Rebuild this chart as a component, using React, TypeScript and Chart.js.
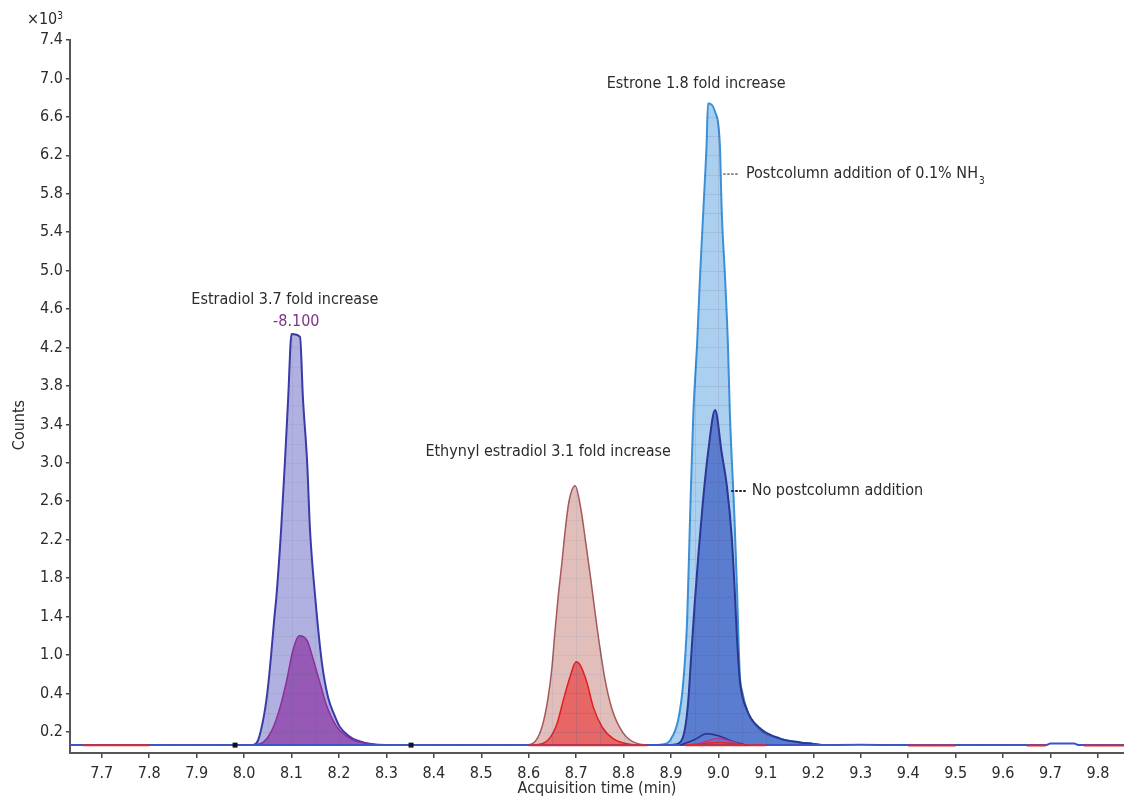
import React, { useEffect, useRef } from "react";
import { Chart, registerables } from "chart.js";

Chart.register(...registerables);

const FONT = "'Liberation Sans Narrow', 'DejaVu Sans Condensed', 'Arial Narrow', sans-serif";
const TEXT = "#2b2b2b";

// ---- axis ticks ----
const xTicks = [7.7, 7.8, 7.9, 8.0, 8.1, 8.2, 8.3, 8.4, 8.5, 8.6, 8.7, 8.8, 8.9, 9.0, 9.1, 9.2, 9.3, 9.4, 9.5, 9.6, 9.7, 9.8];
const yTicks = [0.2, 0.6, 1.0, 1.4, 1.8, 2.2, 2.6, 3.0, 3.4, 3.8, 4.2, 4.6, 5.0, 5.4, 5.8, 6.2, 6.6, 7.0, 7.4];
const yTickLabels = ["0.2", "0.4", "1.0", "1.4", "1.8", "2.2", "2.6", "3.0", "3.4", "3.8", "4.2", "4.6", "5.0", "5.4", "5.8", "6.2", "6.6", "7.0", "7.4"];

// ---- series: [time (min), counts (x10^3)] ----
const estradiolPost: [number, number][] = [
  [8.0, 0.062], [8.019, 0.064], [8.03, 0.12], [8.043, 0.4], [8.05, 0.65], [8.057, 1.0], [8.064, 1.4], [8.068, 1.6],
  [8.078, 2.3], [8.086, 3.0], [8.093, 3.68], [8.1, 4.34], [8.118, 4.31], [8.124, 3.68], [8.133, 3.0],
  [8.139, 2.3], [8.15, 1.6], [8.164, 0.92], [8.177, 0.56], [8.19, 0.38], [8.202, 0.25], [8.22, 0.16],
  [8.238, 0.11], [8.272, 0.07], [8.31, 0.062],
];
const estradiolNo: [number, number][] = [
  [8.02, 0.062], [8.04, 0.09], [8.059, 0.22], [8.076, 0.46], [8.09, 0.74], [8.103, 1.05], [8.116, 1.2],
  [8.133, 1.15], [8.146, 0.95], [8.16, 0.71], [8.175, 0.46], [8.196, 0.25], [8.224, 0.13], [8.259, 0.08],
  [8.29, 0.062],
];
const ethynylPost: [number, number][] = [
  [8.59, 0.062], [8.609, 0.08], [8.628, 0.25], [8.641, 0.56], [8.649, 0.87], [8.655, 1.22], [8.662, 1.6],
  [8.67, 1.96], [8.677, 2.3], [8.685, 2.6], [8.698, 2.76], [8.71, 2.52], [8.72, 2.18], [8.73, 1.82],
  [8.74, 1.44], [8.75, 1.08], [8.761, 0.74], [8.776, 0.43], [8.799, 0.19], [8.828, 0.08], [8.86, 0.062],
];
const ethynylNo: [number, number][] = [
  [8.6, 0.062], [8.624, 0.07], [8.645, 0.14], [8.66, 0.29], [8.673, 0.53], [8.687, 0.77], [8.7, 0.93],
  [8.708, 0.9], [8.723, 0.71], [8.736, 0.46], [8.755, 0.25], [8.778, 0.13], [8.813, 0.07], [8.84, 0.062],
];
const estronePost: [number, number][] = [
  [8.87, 0.062], [8.891, 0.08], [8.898, 0.11], [8.915, 0.32], [8.925, 0.67], [8.934, 1.36], [8.94, 2.4],
  [8.947, 3.5], [8.955, 4.23], [8.961, 4.92], [8.968, 5.61], [8.975, 6.31], [8.978, 6.74], [8.993, 6.65],
  [9.003, 6.31], [9.007, 5.61], [9.014, 4.92], [9.02, 4.23], [9.024, 3.53], [9.034, 2.4], [9.039, 1.71],
  [9.045, 0.8], [9.05, 0.62], [9.062, 0.4], [9.087, 0.22], [9.13, 0.13], [9.172, 0.09], [9.2, 0.075], [9.22, 0.062],
];
const estroneNo: [number, number][] = [
  [8.9, 0.062], [8.919, 0.09], [8.929, 0.22], [8.936, 0.5], [8.943, 1.02], [8.95, 1.54], [8.958, 2.06],
  [8.967, 2.58], [8.978, 3.1], [8.993, 3.55], [9.007, 3.1], [9.018, 2.75], [9.028, 2.23], [9.034, 1.71],
  [9.039, 1.19], [9.045, 0.74], [9.06, 0.43], [9.087, 0.24], [9.13, 0.13], [9.172, 0.09], [9.2, 0.075], [9.22, 0.062],
];
const navyBump: [number, number][] = [[8.92, 0.062], [8.95, 0.12], [8.975, 0.18], [9.0, 0.16], [9.03, 0.1], [9.06, 0.062]];
const magentaBump: [number, number][] = [[8.95, 0.062], [8.98, 0.11], [9.0, 0.13], [9.02, 0.11], [9.05, 0.062]];
const redBump: [number, number][] = [[8.93, 0.062], [8.97, 0.08], [9.0, 0.09], [9.03, 0.08], [9.06, 0.062]];
const blueBaseline: [number, number][] = [
  [7.633, 0.062], [9.2, 0.062], [9.3, 0.066], [9.38, 0.062], [9.69, 0.062], [9.7, 0.08], [9.75, 0.08], [9.76, 0.062], [9.855, 0.062],
];
const redBaseline: [number, number | null][] = [
  [7.66, 0.06], [7.8, 0.06], [7.81, null], [8.6, 0.06], [8.85, 0.06], [8.86, null], [8.93, 0.06], [9.1, 0.06], [9.11, null],
  [9.4, 0.058], [9.5, 0.058], [9.51, null], [9.65, 0.058], [9.69, 0.058], [9.7, null], [9.77, 0.058], [9.855, 0.058],
];
const markers: [number, number][] = [[7.981, 0.062], [8.352, 0.062]];

const BASE = 0.062;

const pts = (a: [number, number | null][]) => a.map(([x, y]) => ({ x, y }));

export default function App() {
  const ref = useRef<HTMLCanvasElement>(null);

  useEffect(() => {
    document.body.style.margin = "0";
    const canvas = ref.current;
    if (!canvas) return;

    const peak = (data: [number, number][], fill: string, line: string, width: number, order: number) => ({
      data: pts(data),
      borderColor: line,
      backgroundColor: fill,
      borderWidth: width,
      fill: { value: BASE },
      pointRadius: 0,
      cubicInterpolationMode: "monotone" as const,
      order,
    });
    const trace = (data: [number, number | null][], line: string, width: number, order: number) => ({
      data: pts(data),
      borderColor: line,
      backgroundColor: line,
      borderWidth: width,
      fill: false,
      pointRadius: 0,
      spanGaps: false,
      cubicInterpolationMode: "monotone" as const,
      order,
    });

    const innerGrid = {
      id: "innerGrid",
      afterDatasetsDraw(chart: any) {
        const { ctx, chartArea: a, scales } = chart;
        const xs = scales.x, ys = scales.y;
        ctx.save();
        ctx.beginPath();
        ctx.rect(a.left + 2, a.top, a.right - a.left - 2, a.bottom - a.top - 2);
        ctx.clip();
        ctx.globalCompositeOperation = "source-atop";
        ctx.strokeStyle = "rgba(70,70,130,0.24)";
        ctx.lineWidth = 1;
        ctx.beginPath();
        for (let i = 0; i <= 44; i++) {
          const px = Math.round(xs.getPixelForValue(7.65 + i * 0.05)) + 0.5;
          ctx.moveTo(px, a.top);
          ctx.lineTo(px, a.bottom);
        }
        for (let i = 0; i <= 37; i++) {
          const py = Math.round(ys.getPixelForValue(0.2 + i * 0.2)) + 0.5;
          ctx.moveTo(a.left, py);
          ctx.lineTo(a.right, py);
        }
        ctx.stroke();
        ctx.restore();
      },
    };

    const texts = {
      id: "texts",
      afterDraw(chart: any) {
        const { ctx, chartArea: a, scales } = chart;
        const X = (v: number) => scales.x.getPixelForValue(v);
        const Y = (v: number) => scales.y.getPixelForValue(v);
        ctx.save();
        ctx.fillStyle = TEXT;
        ctx.textBaseline = "middle";
        ctx.font = `16px ${FONT}`;

        // annotations
        ctx.textAlign = "center";
        ctx.fillText("Estradiol 3.7 fold increase", X(8.086), Y(4.7));
        ctx.fillText("Ethynyl estradiol 3.1 fold increase", X(8.641), Y(3.112));
        ctx.fillText("Estrone 1.8 fold increase", X(8.953), Y(6.942));
        ctx.fillStyle = "#7b3486";
        ctx.fillText("-8.100", X(8.11), Y(4.465));

        // leader labels
        ctx.fillStyle = TEXT;
        ctx.strokeStyle = "#222";
        ctx.setLineDash([2.5, 1.5]);
        ctx.lineWidth = 1;
        ctx.beginPath();
        ctx.moveTo(X(9.01), Y(6.005));
        ctx.lineTo(X(9.041), Y(6.005));
        ctx.stroke();
        ctx.lineWidth = 2;
        ctx.beginPath();
        ctx.moveTo(X(9.027), Y(2.706));
        ctx.lineTo(X(9.058), Y(2.706));
        ctx.stroke();
        ctx.setLineDash([]);
        ctx.textAlign = "left";
        const t1 = "Postcolumn addition of 0.1% NH";
        ctx.fillText(t1, X(9.058), Y(6.005));
        const w1 = ctx.measureText(t1).width;
        ctx.font = `10px ${FONT}`;
        ctx.fillText("3", X(9.058) + w1 + 1, Y(6.005) + 7);
        ctx.font = `16px ${FONT}`;
        ctx.fillText("No postcolumn addition", X(9.07), Y(2.706));

        // y axis title and exponent
        ctx.save();
        ctx.translate(a.left - 50, 425);
        ctx.rotate(-Math.PI / 2);
        ctx.textAlign = "center";
        ctx.fillText("Counts", 0, 0);
        ctx.restore();

        ctx.textAlign = "right";
        ctx.font = `10px ${FONT}`;
        ctx.fillText("3", a.left - 7, a.top - 24);
        const w3 = ctx.measureText("3").width;
        ctx.font = `16px ${FONT}`;
        ctx.fillText("×10", a.left - 7 - w3, a.top - 20);
        ctx.restore();
      },
    };

    const chart = new Chart(canvas, {
      type: "line",
      data: {
        datasets: [
          { type: "scatter", data: pts(markers), pointStyle: "rect", pointRadius: 3.5, backgroundColor: "#111", borderColor: "#111", borderWidth: 0, order: 0 } as any,
          trace(redBump, "#e02828", 1.5, 1),
          trace(magentaBump, "#c0368c", 1.5, 1),
          trace(navyBump, "#26308e", 1.5, 1),
          trace(redBaseline, "#e02a2a", 2, 1),
          trace(blueBaseline, "#3a55c8", 2, 1),
          peak(estradiolNo, "rgba(140,55,165,0.72)", "#8e2f9c", 1.5, 2),
          peak(ethynylNo, "rgba(232,78,78,0.78)", "#e21e24", 1.5, 2),
          peak(estroneNo, "rgba(66,100,198,0.76)", "#2b3794", 2, 2),
          peak(estradiolPost, "rgba(125,125,205,0.6)", "#3a3aa8", 2, 3),
          peak(ethynylPost, "rgba(195,125,115,0.5)", "#a85858", 1.5, 3),
          peak(estronePost, "rgba(125,182,230,0.65)", "#3b90d8", 2, 3),
        ] as any,
      },
      options: {
        animation: false,
        responsive: false,
        maintainAspectRatio: false,
        layout: { autoPadding: false, padding: { top: 40, left: 0, right: 0, bottom: 0 } },
        plugins: { legend: { display: false }, tooltip: { enabled: false } },
        scales: {
          x: {
            type: "linear",
            min: 7.633,
            max: 9.855,
            afterBuildTicks: (s: any) => { s.ticks = xTicks.map((v) => ({ value: v })); },
            afterFit: (s: any) => { s.height = 47; s.paddingLeft = 0; s.paddingRight = 0; },
            ticks: {
              callback: (v: any) => Number(v).toFixed(1),
              font: { family: FONT, size: 16 },
              color: TEXT,
              padding: 6,
              maxRotation: 0,
              autoSkip: false,
            },
            grid: { drawOnChartArea: false, tickLength: 5, color: "#444", lineWidth: 1.5 },
            border: { color: "#555", width: 2 },
            title: { display: true, text: "Acquisition time (min)", font: { family: FONT, size: 16 }, color: TEXT, padding: { top: 0, bottom: 2 } },
          },
          y: {
            type: "linear",
            min: -0.02,
            max: 7.4,
            afterBuildTicks: (s: any) => { s.ticks = yTicks.map((v) => ({ value: v })); },
            afterFit: (s: any) => { s.width = 70; s.paddingTop = 0; s.paddingBottom = 0; },
            ticks: {
              callback: (_v: any, i: number) => yTickLabels[i],
              font: { family: FONT, size: 16 },
              color: TEXT,
              padding: 3,
              autoSkip: false,
            },
            grid: { drawOnChartArea: false, tickLength: 4, color: "#444", lineWidth: 1.5 },
            border: { color: "#555", width: 2 },
          },
        },
      },
      plugins: [innerGrid, texts],
    });
    return () => chart.destroy();
  }, []);

  return <canvas ref={ref} width={1124} height={800} style={{ display: "block", width: 1124, height: 800 }} />;
}
